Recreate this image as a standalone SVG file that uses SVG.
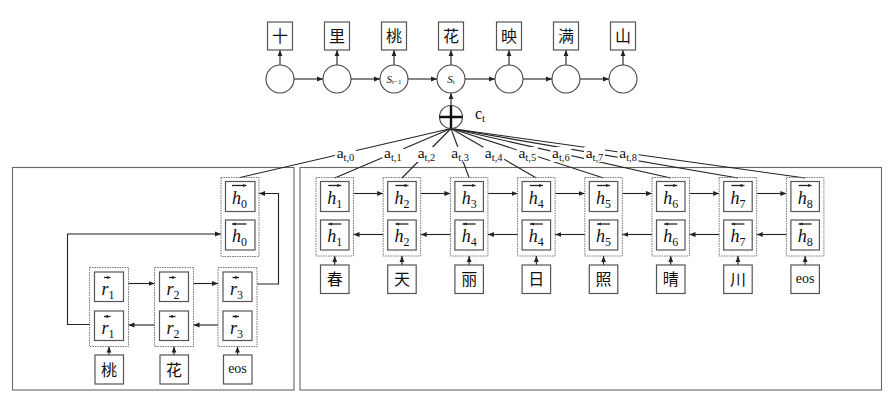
<svg xmlns="http://www.w3.org/2000/svg" width="891" height="404" viewBox="0 0 891 404" font-family="'Liberation Serif', 'DejaVu Serif', serif">
<style>
.bg{fill:#fff}
.box{fill:#fff;stroke:#555;stroke-width:1.2}
.pan{fill:none;stroke:#666;stroke-width:1.1}
.dot{fill:none;stroke:#777;stroke-width:1;stroke-dasharray:1.5 1}
.ln{fill:none;stroke:#222;stroke-width:1.1}
.oa{fill:none;stroke:#222;stroke-width:1.3}
.cir{fill:#fff;stroke:#444;stroke-width:1.1}
.hv{font-family:'Liberation Serif', serif;font-style:italic;font-size:18px;fill:#111;text-anchor:middle}
.sub{font-style:normal;font-size:12px}
.cjk{font-family:'Liberation Serif','Noto Sans CJK SC',serif;font-size:16px;fill:#111;text-anchor:middle}
.eos{font-family:'Liberation Serif', serif;font-size:14px;fill:#111;text-anchor:middle}
.al{font-family:'Liberation Serif', serif;font-size:15.5px;fill:#111;text-anchor:middle}
.als{font-size:10.5px}
.st{font-family:'Liberation Serif', serif;font-style:italic;font-size:11px;fill:#111;text-anchor:middle}
</style>
<defs>
<marker id="ah" viewBox="0 0 10 10" refX="10" refY="5" markerWidth="6" markerHeight="6" markerUnits="userSpaceOnUse" orient="auto"><path d="M0,1 L10,5 L0,9 z" fill="#222"/></marker>
<marker id="sm" viewBox="0 0 10 10" refX="10" refY="5" markerWidth="4" markerHeight="4" markerUnits="userSpaceOnUse" orient="auto"><path d="M0,1 L10,5 L0,9 z" fill="#222"/></marker>
</defs>
<rect x="0" y="0" width="891" height="404" fill="#fff"/>

<g id="panels">
<rect class="pan" x="12.5" y="167.5" width="281.5" height="222.5"/>
<rect class="pan" x="300" y="167.5" width="581.5" height="222.5"/>
</g>

<g id="connectors">
<path class="ln" marker-end="url(#ah)" d="M280 65 V50"/>
<path class="ln" marker-end="url(#ah)" d="M337 65 V50"/>
<path class="ln" marker-end="url(#ah)" d="M394 65 V50"/>
<path class="ln" marker-end="url(#ah)" d="M451 65 V50"/>
<path class="ln" marker-end="url(#ah)" d="M509 65 V50"/>
<path class="ln" marker-end="url(#ah)" d="M566 65 V50"/>
<path class="ln" marker-end="url(#ah)" d="M623 65 V50"/>
<path class="ln" marker-end="url(#ah)" d="M294 79 H323"/>
<path class="ln" marker-end="url(#ah)" d="M351 79 H380"/>
<path class="ln" marker-end="url(#ah)" d="M408 79 H437"/>
<path class="ln" marker-end="url(#ah)" d="M465 79 H495"/>
<path class="ln" marker-end="url(#ah)" d="M523 79 H552"/>
<path class="ln" marker-end="url(#ah)" d="M580 79 H609"/>
<path class="ln" marker-end="url(#ah)" d="M451 105.5 V93"/>
<path class="ln" d="M451 128.5 L240 177.5"/>
<path class="ln" d="M451 128.5 L334.75 178"/>
<path class="ln" d="M451 128.5 L401.95 178"/>
<path class="ln" d="M451 128.5 L469.15 178"/>
<path class="ln" d="M451 128.5 L536.35 178"/>
<path class="ln" d="M451 128.5 L603.55 178"/>
<path class="ln" d="M451 128.5 L670.75 178"/>
<path class="ln" d="M451 128.5 L737.95 178"/>
<path class="ln" d="M451 128.5 L805.15 178"/>
<rect class="bg" x="335" y="147" width="21" height="15"/>
<rect class="bg" x="382.4" y="147" width="21" height="15"/>
<rect class="bg" x="416" y="147" width="21" height="15"/>
<rect class="bg" x="449.6" y="147" width="21" height="15"/>
<rect class="bg" x="483.2" y="147" width="21" height="15"/>
<rect class="bg" x="516.8" y="147" width="21" height="15"/>
<rect class="bg" x="550.4" y="147" width="21" height="15"/>
<rect class="bg" x="584" y="147" width="21" height="15"/>
<rect class="bg" x="617.6" y="147" width="21" height="15"/>
<text class="al" x="345.5" y="158">a<tspan class="als" dy="3">t,0</tspan></text>
<text class="al" x="392.9" y="158">a<tspan class="als" dy="3">t,1</tspan></text>
<text class="al" x="426.5" y="158">a<tspan class="als" dy="3">t,2</tspan></text>
<text class="al" x="460.1" y="158">a<tspan class="als" dy="3">t,3</tspan></text>
<text class="al" x="493.7" y="158">a<tspan class="als" dy="3">t,4</tspan></text>
<text class="al" x="527.3" y="158">a<tspan class="als" dy="3">t,5</tspan></text>
<text class="al" x="560.9" y="158">a<tspan class="als" dy="3">t,6</tspan></text>
<text class="al" x="594.5" y="158">a<tspan class="als" dy="3">t,7</tspan></text>
<text class="al" x="628.1" y="158">a<tspan class="als" dy="3">t,8</tspan></text>
<path class="ln" marker-end="url(#ah)" d="M353.5 193.5 H383.2"/>
<path class="ln" marker-end="url(#ah)" d="M420.7 193.5 H450.4"/>
<path class="ln" marker-end="url(#ah)" d="M487.9 193.5 H517.6"/>
<path class="ln" marker-end="url(#ah)" d="M555.1 193.5 H584.8"/>
<path class="ln" marker-end="url(#ah)" d="M622.3 193.5 H652"/>
<path class="ln" marker-end="url(#ah)" d="M689.5 193.5 H719.2"/>
<path class="ln" marker-end="url(#ah)" d="M756.7 193.5 H786.4"/>
<path class="ln" marker-end="url(#ah)" d="M383.2 234.5 H353.5"/>
<path class="ln" marker-end="url(#ah)" d="M450.4 234.5 H420.7"/>
<path class="ln" marker-end="url(#ah)" d="M517.6 234.5 H487.9"/>
<path class="ln" marker-end="url(#ah)" d="M584.8 234.5 H555.1"/>
<path class="ln" marker-end="url(#ah)" d="M652 234.5 H622.3"/>
<path class="ln" marker-end="url(#ah)" d="M719.2 234.5 H689.5"/>
<path class="ln" marker-end="url(#ah)" d="M786.4 234.5 H756.7"/>
<path class="ln" marker-end="url(#ah)" d="M334.75 265 V256"/>
<path class="ln" marker-end="url(#ah)" d="M401.95 265 V256"/>
<path class="ln" marker-end="url(#ah)" d="M469.15 265 V256"/>
<path class="ln" marker-end="url(#ah)" d="M536.35 265 V256"/>
<path class="ln" marker-end="url(#ah)" d="M603.55 265 V256"/>
<path class="ln" marker-end="url(#ah)" d="M670.75 265 V256"/>
<path class="ln" marker-end="url(#ah)" d="M737.95 265 V256"/>
<path class="ln" marker-end="url(#ah)" d="M805.15 265 V256"/>
<path class="ln" marker-end="url(#ah)" d="M128.5 283.5 H154.5"/>
<path class="ln" marker-end="url(#ah)" d="M193.5 283.5 H218"/>
<path class="ln" marker-end="url(#ah)" d="M154.5 325 H128.5"/>
<path class="ln" marker-end="url(#ah)" d="M218 325 H193.5"/>
<path class="ln" marker-end="url(#ah)" d="M109 355 V346.5"/>
<path class="ln" marker-end="url(#ah)" d="M174 355 V346.5"/>
<path class="ln" marker-end="url(#ah)" d="M237.5 355 V346.5"/>
<path class="ln" marker-end="url(#ah)" d="M89.5 324.5 H67.5 V234 H221"/>
<path class="ln" marker-end="url(#ah)" d="M257 284 H278.5 V193.5 H259"/>
</g>

<g id="out-0"><rect class="box" x="267.5" y="22" width="25" height="28"/><text class="cjk" x="280" y="42">十</text></g>
<g id="out-1"><rect class="box" x="324.5" y="22" width="25" height="28"/><text class="cjk" x="337" y="42">里</text></g>
<g id="out-2"><rect class="box" x="381.5" y="22" width="25" height="28"/><text class="cjk" x="394" y="42">桃</text></g>
<g id="out-3"><rect class="box" x="438.5" y="22" width="25" height="28"/><text class="cjk" x="451" y="42">花</text></g>
<g id="out-4"><rect class="box" x="496.5" y="22" width="25" height="28"/><text class="cjk" x="509" y="42">映</text></g>
<g id="out-5"><rect class="box" x="553.5" y="22" width="25" height="28"/><text class="cjk" x="566" y="42">满</text></g>
<g id="out-6"><rect class="box" x="610.5" y="22" width="25" height="28"/><text class="cjk" x="623" y="42">山</text></g>

<g id="s-0"><circle class="cir" cx="280" cy="79" r="14"/></g>
<g id="s-1"><circle class="cir" cx="337" cy="79" r="14"/></g>
<g id="s-2"><circle class="cir" cx="394" cy="79" r="14"/><text class="st" x="394" y="83">S<tspan font-size="7" font-style="normal" dy="1">t−1</tspan></text></g>
<g id="s-3"><circle class="cir" cx="451" cy="79" r="14"/><text class="st" x="451" y="83">S<tspan font-size="7" font-style="normal" dy="1">t</tspan></text></g>
<g id="s-4"><circle class="cir" cx="509" cy="79" r="14"/></g>
<g id="s-5"><circle class="cir" cx="566" cy="79" r="14"/></g>
<g id="s-6"><circle class="cir" cx="623" cy="79" r="14"/></g>

<g id="ctx">
<circle class="cir" cx="451" cy="117" r="11.5"/>
<path d="M451 105.5 V128.5 M439.5 117 H462.5" stroke="#111" stroke-width="2.4" fill="none"/>
<text x="475" y="118.5" font-family="'Liberation Serif', serif" font-size="16" fill="#111">c<tspan font-size="11" dy="3">t</tspan></text>
</g>

<g id="h0">
<rect class="dot" x="221" y="177.5" width="38" height="79"/>
<rect class="box" x="225.5" y="181.5" width="29.5" height="30"/>
<rect class="box" x="225.5" y="220" width="29.5" height="30"/>
<path class="oa" marker-end="url(#sm)" d="M232 185.5 H246.5"/>
<text class="hv" x="239.5" y="203.5">h<tspan class="sub" dy="4">0</tspan></text>
<path class="oa" marker-end="url(#sm)" d="M246.5 224 H232"/>
<text class="hv" x="239.5" y="242">h<tspan class="sub" dy="4">0</tspan></text>
</g>

<g id="r1">
<rect class="dot" x="89.5" y="267.5" width="39" height="79"/>
<rect class="box" x="94.5" y="272" width="29" height="29.5"/>
<rect class="box" x="94.5" y="311" width="29" height="29.5"/>
<path class="oa" marker-end="url(#sm)" d="M104 277.5 H110.5"/>
<text class="hv" x="108" y="294.5">r<tspan class="sub" dy="4">1</tspan></text>
<path class="oa" marker-end="url(#sm)" d="M110.5 316.5 H104"/>
<text class="hv" x="108" y="333.5">r<tspan class="sub" dy="4">1</tspan></text>
</g>
<g id="r2">
<rect class="dot" x="154.5" y="267.5" width="39" height="79"/>
<rect class="box" x="159.5" y="272" width="29" height="29.5"/>
<rect class="box" x="159.5" y="311" width="29" height="29.5"/>
<path class="oa" marker-end="url(#sm)" d="M169 277.5 H175.5"/>
<text class="hv" x="173" y="294.5">r<tspan class="sub" dy="4">2</tspan></text>
<path class="oa" marker-end="url(#sm)" d="M175.5 316.5 H169"/>
<text class="hv" x="173" y="333.5">r<tspan class="sub" dy="4">2</tspan></text>
</g>
<g id="r3">
<rect class="dot" x="218" y="267.5" width="39" height="79"/>
<rect class="box" x="223" y="272" width="29" height="29.5"/>
<rect class="box" x="223" y="311" width="29" height="29.5"/>
<path class="oa" marker-end="url(#sm)" d="M232.5 277.5 H239"/>
<text class="hv" x="236.5" y="294.5">r<tspan class="sub" dy="4">3</tspan></text>
<path class="oa" marker-end="url(#sm)" d="M239 316.5 H232.5"/>
<text class="hv" x="236.5" y="333.5">r<tspan class="sub" dy="4">3</tspan></text>
</g>
<g id="in-l1"><rect class="box" x="95" y="355" width="28.5" height="29"/><text class="cjk" x="109" y="375.5">桃</text></g>
<g id="in-l2"><rect class="box" x="160" y="355" width="28.5" height="29"/><text class="cjk" x="174" y="375.5">花</text></g>
<g id="in-l3"><rect class="box" x="223.5" y="355" width="28.5" height="29"/><text class="eos" x="237.5" y="373">eos</text></g>

<g id="h1">
<rect class="dot" x="316" y="177.5" width="37.5" height="78.5"/>
<rect class="box" x="320.5" y="181.5" width="28.5" height="30"/>
<rect class="box" x="320.5" y="220" width="28.5" height="30"/>
<path class="oa" marker-end="url(#sm)" d="M328.25 185.5 H341.25"/>
<text class="hv" x="334.75" y="203.5">h<tspan class="sub" dy="4">1</tspan></text>
<path class="oa" marker-end="url(#sm)" d="M341.25 224 H328.25"/>
<text class="hv" x="334.75" y="242">h<tspan class="sub" dy="4">1</tspan></text>
</g>
<g id="h2">
<rect class="dot" x="383.2" y="177.5" width="37.5" height="78.5"/>
<rect class="box" x="387.7" y="181.5" width="28.5" height="30"/>
<rect class="box" x="387.7" y="220" width="28.5" height="30"/>
<path class="oa" marker-end="url(#sm)" d="M395.45 185.5 H408.45"/>
<text class="hv" x="401.95" y="203.5">h<tspan class="sub" dy="4">2</tspan></text>
<path class="oa" marker-end="url(#sm)" d="M408.45 224 H395.45"/>
<text class="hv" x="401.95" y="242">h<tspan class="sub" dy="4">2</tspan></text>
</g>
<g id="h3">
<rect class="dot" x="450.4" y="177.5" width="37.5" height="78.5"/>
<rect class="box" x="454.9" y="181.5" width="28.5" height="30"/>
<rect class="box" x="454.9" y="220" width="28.5" height="30"/>
<path class="oa" marker-end="url(#sm)" d="M462.65 185.5 H475.65"/>
<text class="hv" x="469.15" y="203.5">h<tspan class="sub" dy="4">3</tspan></text>
<path class="oa" marker-end="url(#sm)" d="M475.65 224 H462.65"/>
<text class="hv" x="469.15" y="242">h<tspan class="sub" dy="4">4</tspan></text>
</g>
<g id="h4">
<rect class="dot" x="517.6" y="177.5" width="37.5" height="78.5"/>
<rect class="box" x="522.1" y="181.5" width="28.5" height="30"/>
<rect class="box" x="522.1" y="220" width="28.5" height="30"/>
<path class="oa" marker-end="url(#sm)" d="M529.85 185.5 H542.85"/>
<text class="hv" x="536.35" y="203.5">h<tspan class="sub" dy="4">4</tspan></text>
<path class="oa" marker-end="url(#sm)" d="M542.85 224 H529.85"/>
<text class="hv" x="536.35" y="242">h<tspan class="sub" dy="4">4</tspan></text>
</g>
<g id="h5">
<rect class="dot" x="584.8" y="177.5" width="37.5" height="78.5"/>
<rect class="box" x="589.3" y="181.5" width="28.5" height="30"/>
<rect class="box" x="589.3" y="220" width="28.5" height="30"/>
<path class="oa" marker-end="url(#sm)" d="M597.05 185.5 H610.05"/>
<text class="hv" x="603.55" y="203.5">h<tspan class="sub" dy="4">5</tspan></text>
<path class="oa" marker-end="url(#sm)" d="M610.05 224 H597.05"/>
<text class="hv" x="603.55" y="242">h<tspan class="sub" dy="4">5</tspan></text>
</g>
<g id="h6">
<rect class="dot" x="652" y="177.5" width="37.5" height="78.5"/>
<rect class="box" x="656.5" y="181.5" width="28.5" height="30"/>
<rect class="box" x="656.5" y="220" width="28.5" height="30"/>
<path class="oa" marker-end="url(#sm)" d="M664.25 185.5 H677.25"/>
<text class="hv" x="670.75" y="203.5">h<tspan class="sub" dy="4">6</tspan></text>
<path class="oa" marker-end="url(#sm)" d="M677.25 224 H664.25"/>
<text class="hv" x="670.75" y="242">h<tspan class="sub" dy="4">6</tspan></text>
</g>
<g id="h7">
<rect class="dot" x="719.2" y="177.5" width="37.5" height="78.5"/>
<rect class="box" x="723.7" y="181.5" width="28.5" height="30"/>
<rect class="box" x="723.7" y="220" width="28.5" height="30"/>
<path class="oa" marker-end="url(#sm)" d="M731.45 185.5 H744.45"/>
<text class="hv" x="737.95" y="203.5">h<tspan class="sub" dy="4">7</tspan></text>
<path class="oa" marker-end="url(#sm)" d="M744.45 224 H731.45"/>
<text class="hv" x="737.95" y="242">h<tspan class="sub" dy="4">7</tspan></text>
</g>
<g id="h8">
<rect class="dot" x="786.4" y="177.5" width="37.5" height="78.5"/>
<rect class="box" x="790.9" y="181.5" width="28.5" height="30"/>
<rect class="box" x="790.9" y="220" width="28.5" height="30"/>
<path class="oa" marker-end="url(#sm)" d="M798.65 185.5 H811.65"/>
<text class="hv" x="805.15" y="203.5">h<tspan class="sub" dy="4">8</tspan></text>
<path class="oa" marker-end="url(#sm)" d="M811.65 224 H798.65"/>
<text class="hv" x="805.15" y="242">h<tspan class="sub" dy="4">8</tspan></text>
</g>

<g id="in-r1"><rect class="box" x="320.5" y="265" width="28.5" height="28.5"/><text class="cjk" x="334.75" y="285">春</text></g>
<g id="in-r2"><rect class="box" x="387.7" y="265" width="28.5" height="28.5"/><text class="cjk" x="401.95" y="285">天</text></g>
<g id="in-r3"><rect class="box" x="454.9" y="265" width="28.5" height="28.5"/><text class="cjk" x="469.15" y="285">丽</text></g>
<g id="in-r4"><rect class="box" x="522.1" y="265" width="28.5" height="28.5"/><text class="cjk" x="536.35" y="285">日</text></g>
<g id="in-r5"><rect class="box" x="589.3" y="265" width="28.5" height="28.5"/><text class="cjk" x="603.55" y="285">照</text></g>
<g id="in-r6"><rect class="box" x="656.5" y="265" width="28.5" height="28.5"/><text class="cjk" x="670.75" y="285">晴</text></g>
<g id="in-r7"><rect class="box" x="723.7" y="265" width="28.5" height="28.5"/><text class="cjk" x="737.95" y="285">川</text></g>
<g id="in-r8"><rect class="box" x="790.9" y="265" width="28.5" height="28.5"/><text class="eos" x="805.15" y="283">eos</text></g>
</svg>
